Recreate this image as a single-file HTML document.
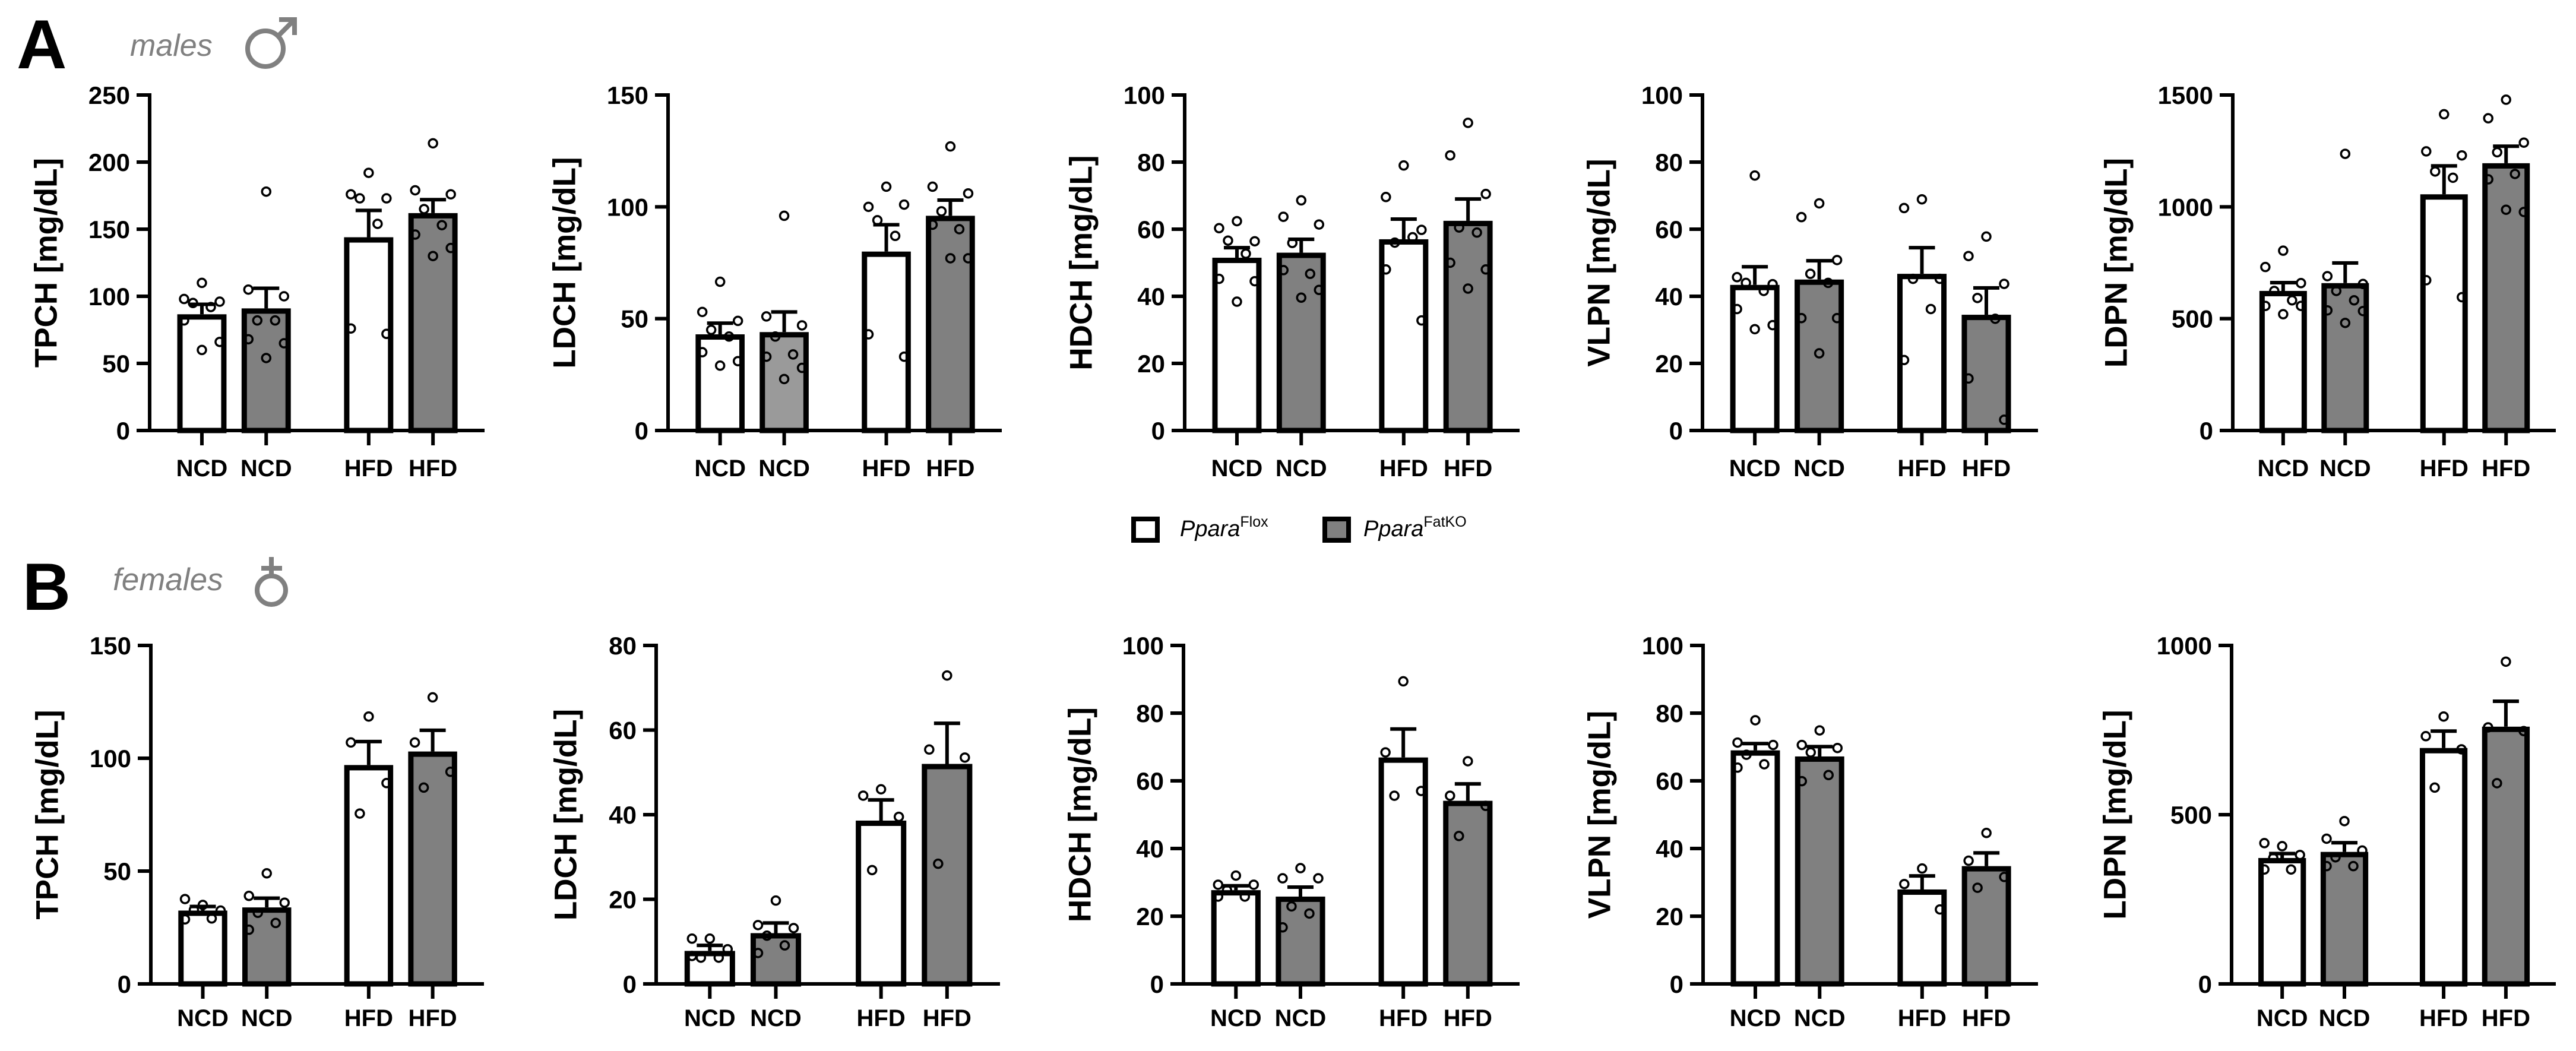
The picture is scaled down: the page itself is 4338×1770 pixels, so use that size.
<!DOCTYPE html>
<html><head><meta charset="utf-8"><style>
html,body{margin:0;padding:0;background:#fff;}
svg{display:block;}
text{font-family:"Liberation Sans",Arial,sans-serif;}
</style></head><body>
<svg id="fig" width="4338" height="1770" viewBox="0 0 4338 1770" xmlns="http://www.w3.org/2000/svg">
<text x="28" y="115" font-size="117" font-weight="bold">A</text>
<text x="219" y="94" font-size="52" font-style="italic" fill="#808080">males</text>
<g stroke="#808080" stroke-width="8" fill="none">
<circle cx="447" cy="82" r="30"/><line x1="468" y1="61" x2="494" y2="35"/><polyline points="470,33 496,33 496,59"/></g>
<text x="38" y="1027" font-size="112" font-weight="bold">B</text>
<text x="190" y="994" font-size="53" font-style="italic" fill="#808080">females</text>
<g stroke="#808080" stroke-width="8" fill="none">
<circle cx="457" cy="994" r="24"/><line x1="457" y1="970" x2="457" y2="938"/><line x1="440" y1="957" x2="475" y2="957"/></g>
<g>
<rect x="1909" y="874" width="40" height="36" fill="#fff" stroke="#000" stroke-width="8"/>
<text x="1987" y="903" font-size="38"><tspan font-style="italic">Ppara</tspan><tspan font-size="25" dy="-16">Flox</tspan></text>
<rect x="2231" y="874" width="40" height="36" fill="#808080" stroke="#000" stroke-width="8"/>
<text x="2296" y="903" font-size="38"><tspan font-style="italic">Ppara</tspan><tspan font-size="25" dy="-16">FatKO</tspan></text>
</g>
</svg>
<script>
const categories = ["NCD","NCD","HFD","HFD"];
const genotypes = ["Flox","FatKO","Flox","FatKO"];

const a1Ticks=[0,50,100,150,200,250], a1Means=[86.6,91,144,162], a1Upper=[94,106,164,172];
const a1Points=[[110,98,96,95,92,82,66,60],[178,105,100,82,82,68,65,54],[192,176,173,173,154,76,72],[214,179,176,165,153,146,136,130]];
const a2Ticks=[0,50,100,150], a2Means=[43,44,80,96], a2Upper=[48,53,92,103];
const a2Points=[[66.5,53,49,45,42,35,31,29],[96,51,47,42,34,33,28,23],[109,100,101,94,87,43,33],[127,109,106,98,90,92,77,77]];
const a3Ticks=[0,20,40,60,80,100], a3Means=[51.5,53,57,62.5], a3Upper=[54.5,57,63,69];
const a3Points=[[62.4,60.3,56.4,56.6,52.7,45.2,44.5,38.4],[68.6,63.7,61.4,55.9,46.7,47.8,41.9,39.6],[79,69.6,59.8,56,57.6,48,32.8],[91.7,82,70.5,60.5,59,50,48,42.3]];
const a4Ticks=[0,20,40,60,80,100], a4Means=[43.4,45,46.7,34.5], a4Upper=[48.8,50.6,54.5,42.5];
const a4Points=[[76,45.7,43.6,44,41.6,36.2,31.4,30.2],[67.7,63.6,50.8,46.7,44,33.5,33.5,23],[68.9,66.3,45.2,45.2,36.2,21],[57.8,52,43.7,39.5,33.3,15.5,3.2]];
const a5Ticks=[0,500,1000,1500], a5Means=[624,659,1056,1195], a5Upper=[661,749,1183,1271];
const a5Points=[[804,731,659,624,582,557,557,520],[1237,690,655,624,582,537,534,481],[1414,1248,1230,1158,1130,672,596],[1479,1396,1287,1244,1147,1123,977,987]];

const b1Ticks=[0,50,100,150], b1Means=[32.5,33.9,97,103], b1Upper=[34.3,38,107.4,112.4];
const b1Points=[[35,37.6,32.5,32.8,29,28.6],[49,39,36,31.5,27,24],[118.5,107,89,75.5],[127,107,94,87]];
const b2Ticks=[0,20,40,60,80], b2Means=[7.8,12,38.6,52], b2Upper=[9.1,14.4,43.5,61.6];
const b2Points=[[10.7,10.7,8.2,6.2,6.2,6.6],[19.7,13.9,13.2,11.4,9.1,7.3],[46,44.5,39.5,26.9],[72.9,55.4,53.5,28.4]];
const b3Ticks=[0,20,40,60,80,100], b3Means=[27.7,25.8,66.9,54.1], b3Upper=[29,28.6,75.3,59.1];
const b3Points=[[32,29.3,29.3,27.7,25.8,25.8],[34.2,31.2,31.2,22.9,20.8,16.7],[89.4,68.4,57,55.6],[65.8,55.6,52.6,43.7]];
const b4Ticks=[0,20,40,60,80,100], b4Means=[69,67.2,27.9,34.8], b4Upper=[71,70.1,31.9,38.7];
const b4Points=[[77.9,71.3,70.6,67.7,64.9,63.9],[74.9,70.6,69.7,68.4,61.7,59.9],[34.1,29.5,22],[44.6,36.4,31.6,28.4]];
const b5Ticks=[0,500,1000], b5Means=[372,390,697,760], b5Upper=[385,417,747,835];
const b5Points=[[407,416,381,372,338,338],[481,429,394,374,348,348],[790,732,693,580],[952,758,747,593]];

const NS="http://www.w3.org/2000/svg";
const svg=document.getElementById("fig");
function mk(tag,attrs,parent){const e=document.createElementNS(NS,tag);for(const k in attrs)e.setAttribute(k,attrs[k]);(parent||svg).appendChild(e);return e;}
const jitter=[0,-30,30,-15,15,-30,30,0];

function chart(id,title,ticks,means,upper,points,ax,endX,yTop,y0,labelY,fills){
  const g=mk("g",{});
  
  
  const vmax=ticks[ticks.length-1];
  const ys=v=>y0-(v/vmax)*(y0-yTop);
  const w=endX-ax;
  const xs=i=>ax+w*[0.156,0.348,0.654,0.846][i];
  const bw=w*0.147;
  // bars
  means.forEach((m,i)=>{
    const r=mk("rect",{x:xs(i)-bw/2+4.5,y:ys(m)+4.5,width:bw-9,height:Math.max(0,y0-ys(m)-4.5),fill:fills[i],stroke:"#000","stroke-width":9},g);
    
    
  });
  // error bars
  upper.forEach((u,i)=>{
    const e=mk("path",{d:`M${xs(i)},${ys(means[i])} V${ys(u)} M${xs(i)-22},${ys(u)} H${xs(i)+22}`,stroke:"#000","stroke-width":6,fill:"none"},g);
    
    
  });
  // points
  points.forEach((arr,i)=>{arr.forEach((v,j)=>{
    const c=mk("circle",{cx:xs(i)+jitter[j%jitter.length],cy:ys(v),r:7,fill:"none",stroke:"#000","stroke-width":3.5},g);
    
    
  });});
  // axes
  const ya=mk("line",{x1:ax,y1:yTop-3,x2:ax,y2:y0+3,stroke:"#000","stroke-width":6},g);
  
  
  const xa=mk("line",{x1:ax-22,y1:y0,x2:endX,y2:y0,stroke:"#000","stroke-width":6},g);
  
  
  ticks.forEach(t=>{
    mk("line",{x1:ax-22,y1:ys(t),x2:ax,y2:ys(t),stroke:"#000","stroke-width":6},g);
    const tl=mk("text",{x:ax-33,y:ys(t)+15,"font-size":42,"font-weight":"bold","text-anchor":"end"},g);
    tl.textContent=t;
    
    
  });
  categories.forEach((c,i)=>{
    mk("line",{x1:xs(i),y1:y0,x2:xs(i),y2:y0+25,stroke:"#000","stroke-width":6},g);
    const xl=mk("text",{x:xs(i),y:labelY,"font-size":40,"font-weight":"bold","text-anchor":"middle"},g);
    xl.textContent=c;
    
    
  });
  const digits=String(vmax).length;
  const tx=ax-(108+22*digits), ty=(yTop+y0)/2;
  const tt=mk("text",{x:tx,y:ty,"font-size":53,"font-weight":"bold","text-anchor":"middle","dominant-baseline":"central",transform:`rotate(-90 ${tx} ${ty})`},g);
  tt.textContent=title+" [mg/dL]";
  
  
}
const G="#808080", W="#fff";
chart("a1","TPCH",a1Ticks,a1Means,a1Upper,a1Points,252,816,160,725,802,[W,G,W,G]);
chart("a2","LDCH",a2Ticks,a2Means,a2Upper,a2Points,1125,1687,160,725,802,[W,"#9a9a9a",W,G]);
chart("a3","HDCH",a3Ticks,a3Means,a3Upper,a3Points,1995,2559,160,725,802,[W,G,W,G]);
chart("a4","VLPN",a4Ticks,a4Means,a4Upper,a4Points,2867,3432,160,725,802,[W,G,W,G]);
chart("a5","LDPN",a5Ticks,a5Means,a5Upper,a5Points,3760,4304,160,725,802,[W,G,W,G]);
chart("b1","TPCH",b1Ticks,b1Means,b1Upper,b1Points,254,815,1087,1657,1728,[W,G,W,G]);
chart("b2","LDCH",b2Ticks,b2Means,b2Upper,b2Points,1105,1684,1087,1657,1728,[W,G,W,G]);
chart("b3","HDCH",b3Ticks,b3Means,b3Upper,b3Points,1993,2559,1087,1657,1728,[W,G,W,G]);
chart("b4","VLPN",b4Ticks,b4Means,b4Upper,b4Points,2868,3432,1087,1657,1728,[W,G,W,G]);
chart("b5","LDPN",b5Ticks,b5Means,b5Upper,b5Points,3758,4304,1087,1657,1728,[W,G,W,G]);
</script>
</body></html>
